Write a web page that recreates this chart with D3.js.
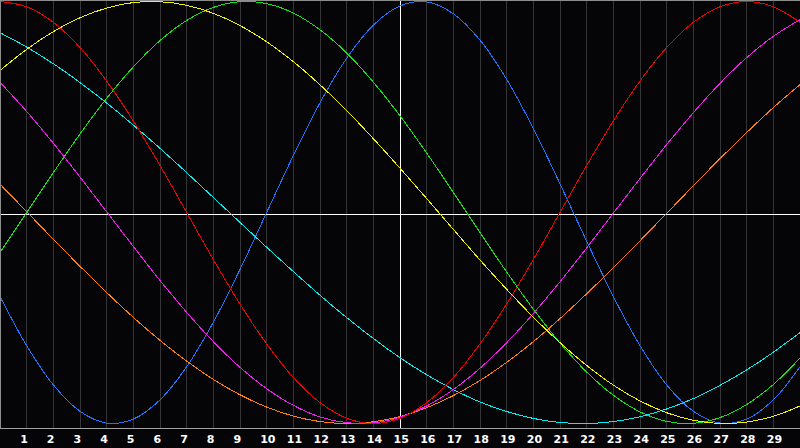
<!DOCTYPE html>
<html lang="en">
  <head>
    <meta charset="utf-8" />
    <title>Cycles</title>
    <script src="https://cdn.jsdelivr.net/npm/d3@7"></script>
    <style>
      html, body { margin: 0; padding: 0; background: #050508; }
      svg { display: block; }
    </style>
  </head>
  <body>
    <svg id="chart" width="800" height="448"></svg>
    <script>
      // days along the x axis (0 = left edge, 30 = right edge)
      const days = [0, 1, 2, 3, 4, 5, 6, 7, 8, 9, 10, 11, 12, 13, 14, 15,
        16, 17, 18, 19, 20, 21, 22, 23, 24, 25, 26, 27, 28, 29, 30];
      const tickDays = [1, 2, 3, 4, 5, 6, 7, 8, 9, 10, 11, 12, 13, 14, 15,
        16, 17, 18, 19, 20, 21, 22, 23, 24, 25, 26, 27, 28, 29];
      const tickLabels = ["1", "2", "3", "4", "5", "6", "7", "8", "9", "10",
        "11", "12", "13", "14", "15", "16", "17", "18", "19", "20",
        "21", "22", "23", "24", "25", "26", "27", "28", "29"];
      const markerDay = 15;

      // curve values, -1 (bottom) .. 1 (top)
      const blue = [-0.398, -0.631, -0.817, -0.942, -0.998, -0.979, -0.888, -0.731, -0.520, -0.270,
        0.000, 0.270, 0.520, 0.731, 0.888, 0.979, 0.998, 0.942, 0.817, 0.631,
        0.398, 0.136, -0.136, -0.398, -0.631, -0.817, -0.942, -0.998, -0.979, -0.888, -0.731];
      const green = [-0.189, 0.000, 0.189, 0.372, 0.541, 0.690, 0.815, 0.910, 0.972, 0.999,
        0.990, 0.945, 0.866, 0.756, 0.618, 0.458, 0.282, 0.095, -0.095, -0.282,
        -0.458, -0.618, -0.756, -0.866, -0.945, -0.990, -0.999, -0.972, -0.910, -0.815, -0.690];
      const red = [1.000, 0.975, 0.901, 0.782, 0.623, 0.434, 0.223, 0.000, -0.223, -0.434,
        -0.623, -0.782, -0.901, -0.975, -1.000, -0.975, -0.901, -0.782, -0.623, -0.434,
        -0.223, 0.000, 0.223, 0.434, 0.623, 0.782, 0.901, 0.975, 1.000, 0.975, 0.901];
      const yellow = [0.673, 0.773, 0.857, 0.923, 0.969, 0.995, 0.999, 0.982, 0.944, 0.886,
        0.809, 0.715, 0.605, 0.483, 0.350, 0.210, 0.066, -0.080, -0.225, -0.364,
        -0.496, -0.617, -0.725, -0.818, -0.893, -0.949, -0.985, -1.000, -0.993, -0.966, -0.917];
      const cyan = [0.852, 0.784, 0.705, 0.616, 0.519, 0.414, 0.304, 0.189, 0.071, -0.047,
        -0.165, -0.280, -0.392, -0.498, -0.597, -0.688, -0.769, -0.839, -0.898, -0.943,
        -0.976, -0.995, -1.000, -0.991, -0.968, -0.931, -0.882, -0.819, -0.746, -0.662, -0.569];
      const magenta = [0.617, 0.479, 0.328, 0.168, 0.003, -0.161, -0.322, -0.473, -0.612, -0.734,
        -0.835, -0.914, -0.969, -0.996, -0.997, -0.970, -0.917, -0.839, -0.738, -0.617,
        -0.479, -0.328, -0.168, -0.003, 0.161, 0.322, 0.473, 0.612, 0.734, 0.835, 0.914];
      const orange = [0.134, 0.004, -0.127, -0.255, -0.379, -0.497, -0.606, -0.704, -0.791, -0.864,
        -0.922, -0.965, -0.991, -1.000, -0.992, -0.967, -0.925, -0.868, -0.796, -0.710,
        -0.612, -0.503, -0.385, -0.262, -0.134, -0.004, 0.127, 0.255, 0.379, 0.497, 0.606];

      const series = [
        { name: "blue", color: "#1c74ff", values: blue },
        { name: "green", color: "#12e612", values: green },
        { name: "cyan", color: "#00f0f0", values: cyan },
        { name: "orange", color: "#ff7f0a", values: orange },
        { name: "magenta", color: "#f01cf0", values: magenta },
        { name: "red", color: "#f00000", values: red },
        { name: "yellow", color: "#f5f500", values: yellow }
      ];

      const svg = d3.select("#chart");
      const width = +svg.attr("width");
      const plotH = 428;

      const x = d3.scaleLinear().domain([0, 30]).range([0, width]);
      const y = d3.scaleLinear().domain([-1, 1]).range([423.5, 1.5]);

      svg.append("rect")
        .attr("width", width).attr("height", 448)
        .attr("fill", "#050508");

      // day grid
      svg.append("g")
        .attr("shape-rendering", "crispEdges")
        .selectAll("line")
        .data(tickDays)
        .join("line")
          .attr("x1", d => Math.floor(x(d)) + 0.5)
          .attr("x2", d => Math.floor(x(d)) + 0.5)
          .attr("y1", 0).attr("y2", plotH)
          .attr("stroke", d => d === markerDay ? "#ffffff" : "#353538")
          .attr("stroke-width", 1);

      // middle line
      svg.append("line")
        .attr("shape-rendering", "crispEdges")
        .attr("x1", 0).attr("x2", width)
        .attr("y1", plotH / 2 + 0.5).attr("y2", plotH / 2 + 0.5)
        .attr("stroke", "#ffffff");

      const line = d3.line()
        .x((d, i) => x(days[i]))
        .y(d => y(d))
        .curve(d3.curveCatmullRom);

      svg.append("g")
        .attr("fill", "none")
        .selectAll("path")
        .data(series)
        .join("path")
          .attr("stroke", d => d.color)
          .attr("stroke-width", 1)
          .attr("shape-rendering", "crispEdges")
          .attr("d", d => line(d.values));

      // frame: top, left and the baseline
      svg.append("path")
        .attr("shape-rendering", "crispEdges")
        .attr("fill", "none")
        .attr("stroke", "#8c8c8c")
        .attr("d", `M0.5,${plotH + 0.5}V0.5H${width}`);
      svg.append("line")
        .attr("shape-rendering", "crispEdges")
        .attr("x1", 0).attr("x2", width)
        .attr("y1", plotH + 0.5).attr("y2", plotH + 0.5)
        .attr("stroke", "#a0a0a0");

      // day labels
      svg.append("g")
        .attr("font-family", "DejaVu Sans")
        .attr("font-weight", "bold")
        .attr("font-size", "11px")
        .attr("fill", "#ffffff")
        .selectAll("text")
        .data(tickDays)
        .join("text")
          .attr("x", d => x(d) - 6.5)
          .attr("y", 443)
          .text((d, i) => tickLabels[i]);
    </script>
  </body>
</html>
